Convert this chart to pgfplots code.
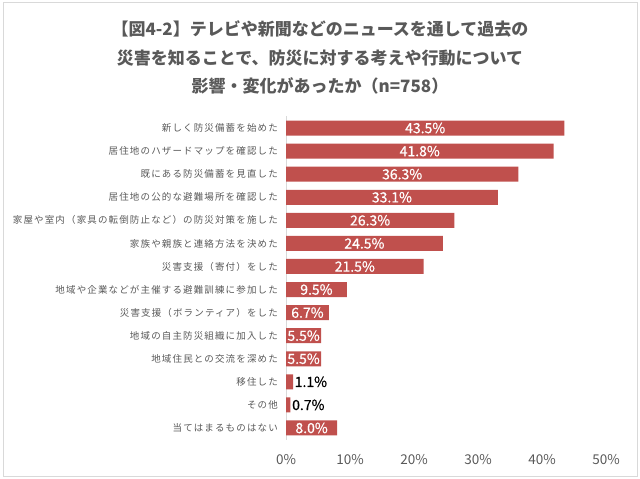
\documentclass[border=0pt]{standalone}
\usepackage{fontspec}
\usepackage{pgfplots}
\usepackage{pgfplotstable}
\pgfplotsset{compat=1.18}
\setmainfont{Noto Sans CJK JP}
\newfontfamily\labfont[LetterSpace=12]{Noto Sans CJK JP}
\newfontfamily\valfont[FakeBold=0.6]{Noto Sans CJK JP}
\definecolor{barred}{HTML}{C0504D}
\definecolor{txtgray}{HTML}{595959}
\definecolor{framegray}{HTML}{D9D9D9}

% pos: vertical position (13 = top row)
\pgfplotstableread{
pos v
13 43.5
12 41.8
11 36.3
10 33.1
9 26.3
8 24.5
7 21.5
6 9.5
5 6.7
4 5.5
3 5.5
2 1.1
1 0.7
0 8.0
}\data

\pgfplotstableread{
pos v
13 43.5
12 41.8
11 36.3
10 33.1
9 26.3
8 24.5
7 21.5
6 9.5
5 6.7
4 5.5
3 5.5
0 8.0
}\datain

\pgfplotstableread{
pos v
2 1.1
1 0.7
}\dataout

\begin{document}
\begin{tikzpicture}[x=1bp,y=1bp]
\useasboundingbox (0,0) rectangle (640,-479);
\draw[framegray, line width=1bp] (3,-3) rectangle (637,-476);
\begin{scope}[every node/.style={font=\fontsize{17bp}{20bp}\selectfont\bfseries, text=txtgray, inner sep=0pt}]
\node at (320,-29) {【図4-2】テレビや新聞などのニュースを通して過去の};
\node at (320,-58) {災害を知ることで、防災に対する考えや行動について};
\node at (320,-86) {影響・変化があったか（n=758）};
\end{scope}
\begin{axis}[
  at={(286bp,-116.5bp)}, anchor=north west,
  scale only axis, width=320bp, height=323bp,
  xmin=0, xmax=50, ymin=-0.5, ymax=13.5,
  axis x line*=bottom, axis y line*=left,
  x axis line style={draw=none},
  y axis line style={draw=framegray, line width=0.8bp, -},
  major tick length=0pt,
  xtick={0,10,20,30,40,50},
  xticklabel={\pgfmathprintnumber{\tick}\%},
  /pgf/number format/assume math mode=true,
  xticklabel style={font=\fontsize{13.5bp}{15bp}\selectfont, text=txtgray, anchor=center, yshift=-20.5bp, inner sep=0pt},
  ytick={0,1,...,13},
  yticklabels={当てはまるものはない, その他, 移住した, 地域住民との交流を深めた, 地域の自主防災組織に加入した, 災害支援（ボランティア）をした, 地域や企業などが主催する避難訓練に参加した, 災害支援（寄付）をした, 家族や親族と連絡方法を決めた, 家屋や室内（家具の転倒防止など）の防災対策を施した, 居住地の公的な避難場所を確認した, 既にある防災備蓄を見直した, 居住地のハザードマップを確認した, 新しく防災備蓄を始めた},
  yticklabel style={font=\labfont\fontsize{9.5bp}{11bp}\selectfont, text=txtgray, anchor=east, inner sep=0pt, xshift=-8bp},
  clip=false,
]
\addplot[xbar, bar width=15bp, fill=barred, draw=none] table[x=v, y=pos] {\data};
\addplot[draw=none, mark=none,
  point meta=explicit,
  nodes near coords={\pgfmathprintnumber[fixed,fixed zerofill,precision=1]{\pgfplotspointmeta}\%},
  every node near coord/.append style={anchor=center, text=white, inner sep=0pt, font=\valfont\fontsize{14bp}{16bp}\selectfont, /pgf/number format/assume math mode=true}]
  table[x expr=\thisrow{v}/2, y=pos, meta=v] {\datain};
\addplot[draw=none, mark=none,
  point meta=explicit,
  nodes near coords={\pgfmathprintnumber[fixed,fixed zerofill,precision=1]{\pgfplotspointmeta}\%},
  every node near coord/.append style={anchor=west, text=black, inner sep=0pt, xshift=1.5bp, font=\valfont\fontsize{14bp}{16bp}\selectfont, /pgf/number format/assume math mode=true}]
  table[x=v, y=pos, meta=v] {\dataout};
\end{axis}
\end{tikzpicture}
\end{document}
